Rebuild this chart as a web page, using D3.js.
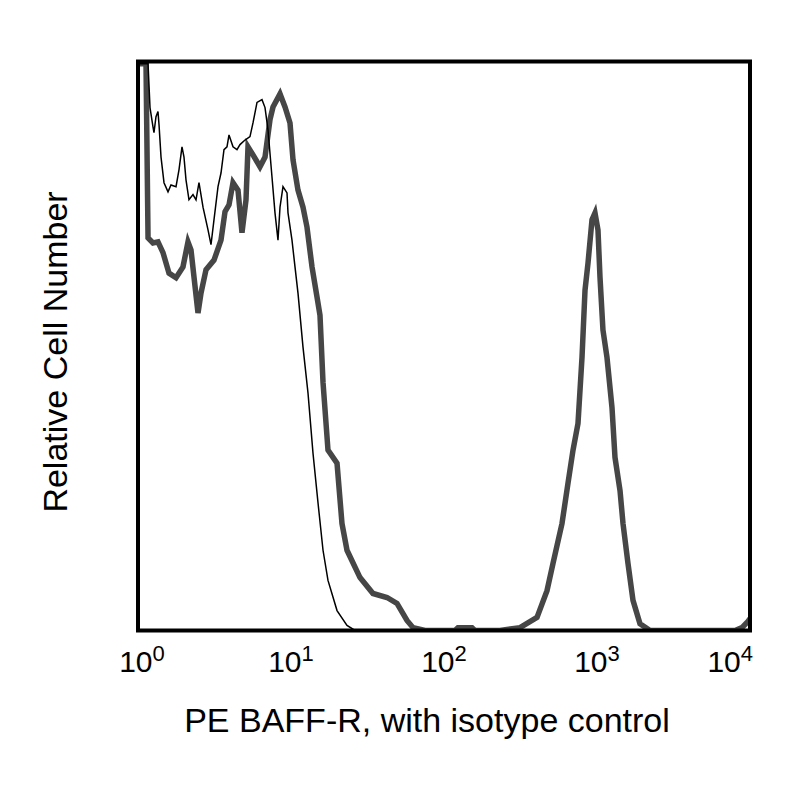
<!DOCTYPE html>
<html>
<head>
<meta charset="utf-8">
<script src="https://cdn.jsdelivr.net/npm/d3@7"></script>
<style>
	body{margin:0;background:#fff;}
	text{font-family:"Liberation Sans",Arial,sans-serif;fill:#000;}
	.t_tick{font-size:30px;}
	.t_label{font-size:34px;}
</style>
</head>
<body>
<svg width="800" height="800"></svg>
<script>
/* ----------------------------------------------------------
data (fluorescence channel / relative count, top of box = 100)
---------------------------------------------------------- */

var baffrChannel = [1.015,1.128,1.163,1.253,1.351,1.457,1.595,1.772,1.968,2.122,2.22,2.323,2.467,2.581,2.783,3.139,3.487,3.704,3.934,4.178,4.504,4.783,5.081,5.236,5.644,6.271,6.763,7.291,7.627,8.476,9.138,9.851,10.31,11.11,11.98,12.72,13.72,14.79,15.47,16.19,17.45,19.99,21.54,23.23,28.25,34.35,42.42,49.3,57.3,62.73,75.1,118,123.4,152.4,159.4,232.3,313.9,405.4,471.2,515.8,590.5,646.4,696.9,751.3,798,835,873.5,927.6,970.3,1015,1046,1094,1162,1253,1311,1414,1479,1594,1719,1910,2221,7980,8867,9559,10000];
var baffrCount = [99.6,99.6,69.0,68.1,68.3,66.4,62.8,62.0,63.9,68.3,66.9,62.1,55.8,59.3,63.4,65.1,68.6,73.6,74.8,78.7,77.4,69.9,75.7,85.0,83.6,81.5,83.2,89.8,92.0,94.3,92.0,89.2,82.7,77.4,74.4,70.9,63.9,58.6,55.4,43.6,31.7,29.4,18.8,14.1,9.3,6.5,5.8,4.75,1.76,0.5,0,0,0.5,0.5,0,0,0.5,2.3,7.0,11.8,18.8,25.9,31.7,36.4,48.0,59.8,64.6,72.2,73.4,70.4,62.1,52.8,48.0,39.2,30.4,24.6,18.8,11.8,5.3,1.2,0,0,0.5,1.4,2.1];

var isotypeChannel = [1.015,1.163,1.198,1.253,1.272,1.311,1.351,1.372,1.414,1.479,1.571,1.643,1.772,1.854,1.939,1.998,2.059,2.154,2.288,2.394,2.504,2.66,2.868,3.0,3.139,3.334,3.487,3.648,3.816,3.934,4.178,4.436,4.642,5.005,5.395,5.644,5.995,6.463,6.763,7.074,7.512,7.859,8.222,8.476,8.866,9.417,9.559,10.15,10.62,11.11,11.98,12.92,13.92,15.02,16.19,17.45,19.99,23.23,26.2,10000];
var isotypeCount = [99.6,99.6,91.9,88.5,87.5,90.3,91.2,88.9,83.2,78.7,77.1,78.3,78.0,81.0,85.0,83.2,79.2,75.7,76.6,75.7,78.7,74.4,70.4,67.8,72.2,78.0,80.4,84.5,85.0,87.1,85.0,84.5,85.4,86.2,86.8,89.2,92.8,93.3,91.9,88.0,79.7,73.4,68.6,74.4,78.0,76.9,73.4,68.6,63.9,59.3,49.8,41.7,31.2,22.4,14.1,8.8,3.5,0.9,0,0];

var tickValues = [1,10,100,1000,10000];
var tickExponents = ["0","1","2","3","4"];

var xLabel = "PE BAFF-R, with isotype control";
var yLabel = "Relative Cell Number";

/* ----------------------------------------------------------
setting
---------------------------------------------------------- */

var box = {left:138, right:750, top:61.5, bottom:630.5};
var svg = d3.select("svg");

var x = d3.scaleLog().domain([1, 10000]).range([box.left, box.right]);
var y = d3.scaleLinear().domain([0, 100]).range([box.bottom, box.top]);

svg.append("defs").append("clipPath").attr("id","plotClip")
	.append("rect")
	.attr("x",box.left).attr("y",box.top)
	.attr("width",box.right - box.left).attr("height",box.bottom - box.top);

var line = d3.line()
	.x(function(d){ return x(d[0]); })
	.y(function(d){ return y(d[1]); });

var baffr = d3.zip(baffrChannel, baffrCount);
var isotype = d3.zip(isotypeChannel, isotypeCount);

var g = svg.append("g").attr("clip-path","url(#plotClip)");

//path
g.append("path").attr("d", line(baffr))
	.style("fill","none").style("stroke","#464646")
	.style("stroke-width",5.5).style("stroke-linejoin","miter");
g.append("path").attr("d", line(isotype))
	.style("fill","none").style("stroke","#000")
	.style("stroke-width",1.5);

//frame
svg.append("rect")
	.attr("x",box.left).attr("y",box.top)
	.attr("width",box.right - box.left).attr("height",box.bottom - box.top)
	.style("fill","none").style("stroke","#000").style("stroke-width",4);

//tick labels
var gTick = svg.append("g");
tickValues.forEach(function(v, i){
	var last = i == tickValues.length - 1;
	var t = gTick.append("text")
		.attr("class","t_tick")
		.attr("x", last ? x(v) + 3 : x(v) + (i == 0 ? 4 : 0))
		.attr("y", 672)
		.style("text-anchor", last ? "end" : "middle");
	t.append("tspan").text("10");
	t.append("tspan").attr("dy",-11).style("font-size","22px").text(tickExponents[i]);
});

//axis titles
svg.append("text").attr("class","t_label")
	.attr("x", 427).attr("y", 732)
	.style("text-anchor","middle").text(xLabel);

svg.append("text").attr("class","t_label")
	.attr("transform","translate(67,352) rotate(-90)")
	.style("text-anchor","middle").text(yLabel);
</script>
</body>
</html>
